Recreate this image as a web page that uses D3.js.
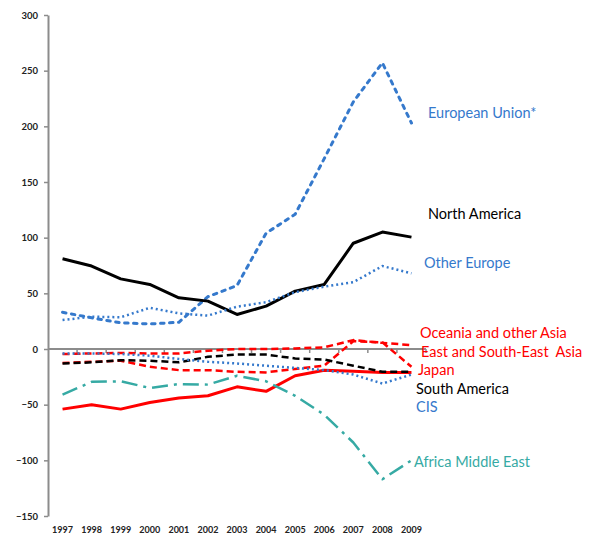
<!DOCTYPE html>
<html>
<head>
<meta charset="utf-8">
<script src="https://cdn.jsdelivr.net/npm/d3@7"></script>
<style>
  body { margin: 0; background: #fff; }
  svg { display: block; }
</style>
</head>
<body>
<svg id="chart"></svg>
<script>
var years = [1997, 1998, 1999, 2000, 2001, 2002, 2003, 2004, 2005, 2006, 2007, 2008, 2009];
var yTicks = [-150, -100, -50, 0, 50, 100, 150, 200, 250, 300];

// values
var europeanUnion = [33, 28, 23.5, 22.5, 24, 47, 57, 104, 121, 171, 222, 257, 203];
var northAmerica  = [81, 74.5, 63, 58, 46, 43, 31, 38.5, 52, 58, 95, 105, 100.5];
var otherEurope   = [26, 29, 28.5, 37, 32, 30, 38, 42, 51, 56, 60, 74.5, 68];
var oceania       = [-4.5, -4, -3.5, -4, -4, -1.5, 0, 0, 0.5, 1.5, 8, 5.5, 3.5];
var eastSEAsia    = [-12.5, -11.5, -10.5, -16, -19, -19, -20.5, -21, -18, -15, 7, 6, -16];
var japan         = [-54, -50, -54, -48, -44, -42, -34, -38, -24, -19, -20, -21, -21];
var southAmerica  = [-13, -12, -10, -10.5, -12, -7, -5, -5, -8.5, -9.5, -15, -20.5, -20.5];
var cis           = [-4, -4, -4.5, -6, -9, -11.5, -13, -15, -17, -19, -23, -31, -23];
var africaME      = [-41, -29.5, -29, -35, -31.5, -32, -24, -29, -42, -59, -84, -117, -100];

var blue = "#3579cc", red = "#ff0000", teal = "#36aaa4";

var series = [
  {name: "European Union*", values: europeanUnion, color: blue, width: 3, dash: "3.5 5.5", cap: "round", lx: 428, ly: 113},
  {name: "North America", values: northAmerica, color: "#000", width: 3, dash: null, cap: "butt", lx: 428, ly: 214},
  {name: "Other Europe", values: otherEurope, color: blue, width: 2.5, dash: "2 3", cap: "butt", lx: 424, ly: 263},
  {name: "Oceania and other Asia", values: oceania, color: red, width: 2.5, dash: "7 4", cap: "butt", lx: 420, ly: 333},
  {name: "East and South-East  Asia", values: eastSEAsia, color: red, width: 2.5, dash: "7 4", cap: "butt", lx: 421, ly: 352},
  {name: "Japan", values: japan, color: red, width: 3, dash: null, cap: "butt", lx: 418, ly: 370},
  {name: "South America", values: southAmerica, color: "#000", width: 2.5, dash: "7 4", cap: "butt", lx: 416, ly: 389},
  {name: "CIS", values: cis, color: blue, width: 2.5, dash: "2 3", cap: "butt", lx: 416, ly: 407},
  {name: "Africa Middle East", values: africaME, color: teal, width: 2.5, dash: "16 6 3 6", cap: "butt", lx: 414, ly: 462}
];

var width = 590, height = 538;
var svg = d3.select("#chart").attr("width", width).attr("height", height);

var x = d3.scaleBand().domain(years).range([48, 426]);
var cx = d => x(d) + x.bandwidth() / 2;
var y = d3.scaleLinear().domain([-150, 300]).range([516, 15]);

// y axis
svg.append("g")
    .attr("transform", "translate(48,0)")
    .call(d3.axisLeft(y).tickValues(yTicks).tickSize(4).tickSizeOuter(0))
    .call(g => g.select(".domain").attr("stroke", "#8c8c8c").attr("stroke-width", 2))
    .call(g => g.selectAll(".tick line").attr("stroke", "#8c8c8c").attr("stroke-width", 1.5))
    .call(g => g.selectAll(".tick text")
        .attr("x", -10)
        .attr("font-family", "Lato, 'Open Sans', sans-serif")
        .attr("font-weight", "bold")
        .attr("font-size", 9.5)
        .attr("fill", "#222"));

// zero line with category ticks between years
var zero = svg.append("g");
zero.append("line")
    .attr("x1", 48).attr("x2", 426)
    .attr("y1", y(0)).attr("y2", y(0))
    .attr("stroke", "#8c8c8c").attr("stroke-width", 2);
zero.selectAll("line.tk")
    .data(years.slice(1).concat(["end"]))
    .join("line")
    .attr("class", "tk")
    .attr("x1", d => d === "end" ? 426 : x(d))
    .attr("x2", d => d === "end" ? 426 : x(d))
    .attr("y1", y(0)).attr("y2", y(0) + 4)
    .attr("stroke", "#8c8c8c").attr("stroke-width", 1.5);

// year labels at the bottom
svg.append("g")
    .attr("transform", "translate(0,524)")
    .call(d3.axisBottom(x).tickSize(0))
    .call(g => g.select(".domain").remove())
    .call(g => g.selectAll(".tick text")
        .attr("font-family", "Lato, 'Open Sans', sans-serif")
        .attr("font-weight", "bold")
        .attr("font-size", 9)
        .attr("fill", "#222"));

var line = d3.line()
    .x((d, i) => cx(years[i]))
    .y(d => y(d));

svg.append("g")
    .selectAll("path")
    .data(series)
    .join("path")
    .attr("fill", "none")
    .attr("stroke", d => d.color)
    .attr("stroke-width", d => d.width)
    .attr("stroke-dasharray", d => d.dash)
    .attr("stroke-linecap", d => d.cap)
    .attr("stroke-linejoin", "round")
    .attr("d", d => line(d.values));

svg.append("g")
    .selectAll("text")
    .data(series)
    .join("text")
    .attr("x", d => d.lx)
    .attr("y", d => d.ly)
    .attr("dy", "0.35em")
    .attr("font-family", "Lato, 'Open Sans', sans-serif")
    .attr("font-size", 14.5)
    .attr("fill", d => d.color)
    .style("white-space", "pre")
    .text(d => d.name);
</script>
</body>
</html>
